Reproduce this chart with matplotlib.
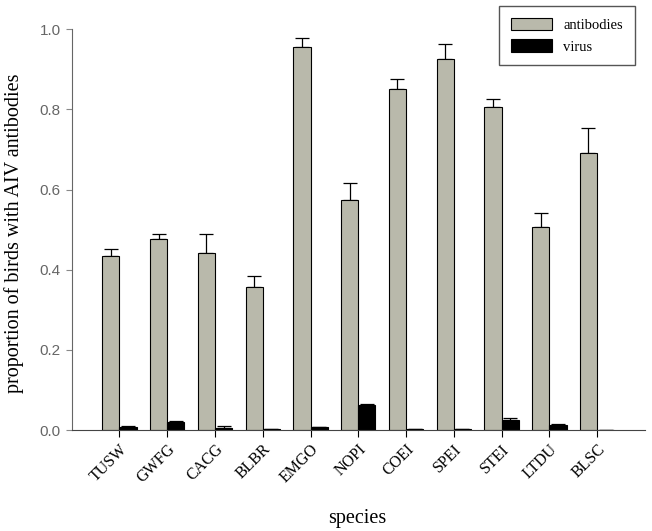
import matplotlib
matplotlib.use("Agg")
import matplotlib.pyplot as plt
import numpy as np

species = ["TUSW", "GWFG", "CACG", "BLBR", "EMGO", "NOPI", "COEI", "SPEI", "STEI", "LTDU", "BLSC"]
antibodies = [0.434, 0.476, 0.441, 0.357, 0.955, 0.574, 0.851, 0.925, 0.805, 0.507, 0.691]
antibodies_err = [0.017, 0.014, 0.049, 0.028, 0.022, 0.042, 0.025, 0.038, 0.021, 0.035, 0.063]
virus = [0.009, 0.021, 0.005, 0.002, 0.008, 0.063, 0.003, 0.003, 0.025, 0.012, 0.0]
virus_err = [0.001, 0.001, 0.006, 0.0, 0.001, 0.002, 0.0, 0.0, 0.006, 0.004, 0.0]

fig = plt.figure(figsize=(6.52, 5.31), dpi=100)
ax = fig.add_axes([0.110, 0.190, 0.879, 0.755])

x = np.arange(len(species))
w = 0.36
ab_color = "#b9b9ab"
ax.bar(x - w / 2, antibodies, w, color=ab_color, edgecolor="black", linewidth=0.8,
       label="antibodies", zorder=2)
ax.errorbar(x - w / 2, antibodies, yerr=[np.zeros(len(x)), antibodies_err], fmt="none",
            ecolor="black", elinewidth=0.9, capsize=5, capthick=0.9, zorder=1)
ax.bar(x + w / 2, virus, w, color="black", edgecolor="black", linewidth=0.8,
       label="virus", zorder=2)
ax.errorbar(x + w / 2, virus, yerr=[np.zeros(len(x)), virus_err], fmt="none",
            ecolor="black", elinewidth=0.9, capsize=5, capthick=0.9, zorder=1)

ax.set_xlim(-1, len(species))
ax.set_ylim(0, 1.0)
ax.set_yticks([0.0, 0.2, 0.4, 0.6, 0.8, 1.0])
ax.set_yticklabels(["0.0", "0.2", "0.4", "0.6", "0.8", "1.0"],
                   family="Liberation Sans", fontsize=11, color="#666666")
ax.set_xticks(x)
ax.set_xticklabels(species, rotation=45, ha="right", rotation_mode="anchor",
                   family="Liberation Serif", fontsize=11.5)
ax.tick_params(axis="y", direction="out", length=4, color="#888888", pad=4)
ax.tick_params(axis="x", direction="out", length=5, color="black", pad=3)

for s in ["top", "right"]:
    ax.spines[s].set_visible(False)
ax.spines["left"].set_color("#666666")
ax.spines["bottom"].set_color("#444444")

ax.set_ylabel("proportion of birds with AIV antibodies", family="Liberation Serif",
              fontsize=14.5)
ax.yaxis.set_label_coords(-0.083, 0.491)
ax.set_xlabel("species", family="Liberation Serif", fontsize=14.5)
ax.xaxis.set_label_coords(0.498, -0.197)

leg = ax.legend(loc="upper right", bbox_to_anchor=(0.995, 1.075),
                prop={"family": "Liberation Serif", "size": 10.5},
                fancybox=False, framealpha=1, edgecolor="#555555", handlelength=2.8,
                handleheight=0.9, borderpad=0.8)

fig.savefig("out.png", dpi=100)
